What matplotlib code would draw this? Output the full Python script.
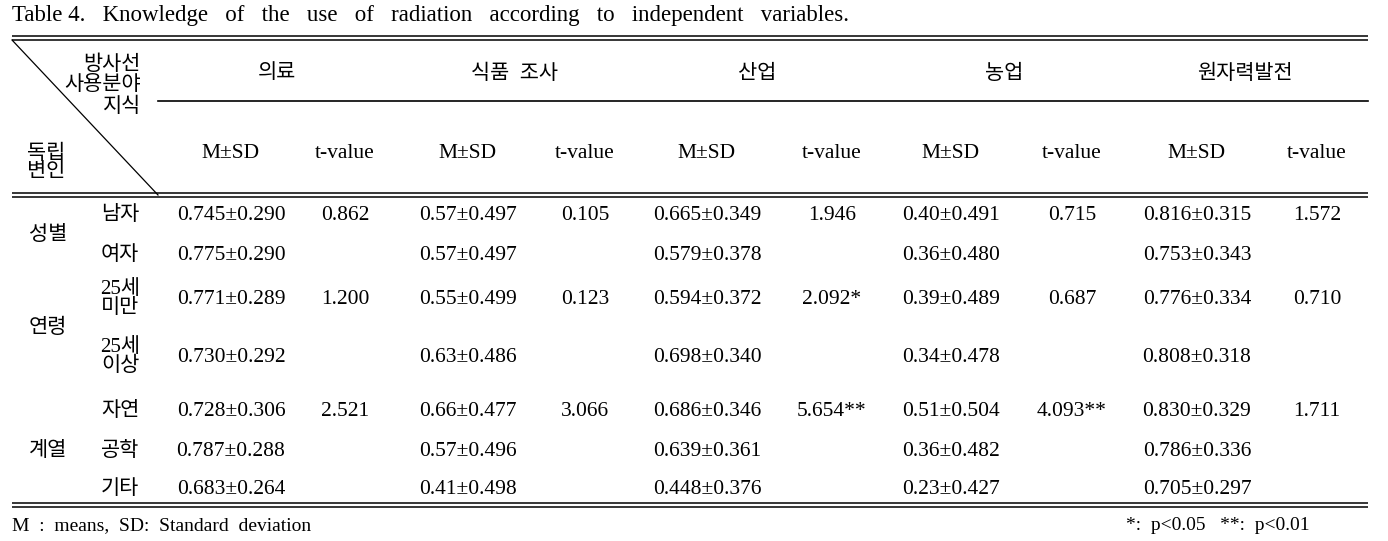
"""Table 4: knowledge of the use of radiation according to independent variables."""

import matplotlib

matplotlib.use("Agg")
import matplotlib.pyplot as plt

FONTS = ["Liberation Serif", "Noto Sans CJK KR"]

TITLE = "Table 4.   Knowledge   of   the   use   of   radiation   according   to   independent   variables."
FIELDS = ["의료", "식품  조사", "산업", "농업", "원자력발전"]
SUB_HEADERS = ["M±SD", "t-value"]

GROUPS = ["성별", "연령", "계열"]
SUBGROUPS = ["남자", "여자", "25세\n미만", "25세\n이상", "자연", "공학", "기타"]
GROUP_OF_ROW = [0, 0, 1, 1, 2, 2, 2]

MSD_MEDICAL = ["0.745±0.290", "0.775±0.290", "0.771±0.289", "0.730±0.292",
               "0.728±0.306", "0.787±0.288", "0.683±0.264"]
MSD_FOOD = ["0.57±0.497", "0.57±0.497", "0.55±0.499", "0.63±0.486",
            "0.66±0.477", "0.57±0.496", "0.41±0.498"]
MSD_INDUSTRY = ["0.665±0.349", "0.579±0.378", "0.594±0.372", "0.698±0.340",
                "0.686±0.346", "0.639±0.361", "0.448±0.376"]
MSD_AGRI = ["0.40±0.491", "0.36±0.480", "0.39±0.489", "0.34±0.478",
            "0.51±0.504", "0.36±0.482", "0.23±0.427"]
MSD_NUCLEAR = ["0.816±0.315", "0.753±0.343", "0.776±0.334", "0.808±0.318",
               "0.830±0.329", "0.786±0.336", "0.705±0.297"]

# t-value per group (shown on first row of each group)
T_MEDICAL = ["0.862", "1.200", "2.521"]
T_FOOD = ["0.105", "0.123", "3.066"]
T_INDUSTRY = ["1.946", "2.092*", "5.654**"]
T_AGRI = ["0.715", "0.687", "4.093**"]
T_NUCLEAR = ["1.572", "0.710", "1.711"]

FOOT_LEFT = "M  :  means,  SD:  Standard  deviation"
FOOT_RIGHT = "*:  p<0.05   **:  p<0.01"


def double_line(ax, y, x0=12, x1=1368):
    ax.plot([x0, x1], [y - 2, y - 2], color="black", lw=1.1, solid_capstyle="butt")
    ax.plot([x0, x1], [y + 2, y + 2], color="black", lw=1.1, solid_capstyle="butt")


def main():
    fig = plt.figure(figsize=(13.88, 5.41), dpi=100)
    ax = fig.add_axes([0, 0, 1, 1])
    ax.set_xlim(0, 1388)
    ax.set_ylim(541, 0)
    ax.set_axis_off()

    txt = dict(fontsize=15.5, family=FONTS, color="black")
    kor = dict(fontsize=15, family=FONTS, color="black", fontweight="light")
    dy = 2  # text boxes sit a little high; nudge down

    ax.text(12, 14 + dy, TITLE, ha="left", va="center", fontsize=16.5, family=FONTS)

    # rules
    double_line(ax, 38)
    double_line(ax, 195)
    double_line(ax, 505)
    ax.plot([158, 1368], [101, 101], color="black", lw=1.2)
    ax.plot([12, 158], [40, 195], color="black", lw=0.9)

    # corner cell
    for i, line in enumerate(["방사선", "사용분야", "지식"]):
        ax.text(141, 63 + dy + i * 21, line, ha="right", va="center", **kor)
    ax.text(27, 152 + dy, "독립", ha="left", va="center", **kor)
    ax.text(27, 171 + dy, "변인", ha="left", va="center", **kor)

    msd_x = [231, 468, 707, 951, 1197]
    t_x = [345, 585, 832, 1072, 1317]
    field_x = [277, 515, 757, 1004, 1245]

    for name, fx in zip(FIELDS, field_x):
        ax.text(fx, 72 + dy, name, ha="center", va="center", **kor)
    for mx, tx in zip(msd_x, t_x):
        ax.text(mx, 151 + dy, SUB_HEADERS[0], ha="center", va="center", **txt)
        ax.text(tx, 151 + dy, SUB_HEADERS[1], ha="center", va="center", **txt)

    row_y = [214, 253, 297, 355, 410, 449, 488]
    group_y = [233, 326, 449]
    for g, gy in zip(GROUPS, group_y):
        ax.text(48, gy + dy, g, ha="center", va="center", **kor)
    for s, ry in zip(SUBGROUPS, row_y):
        ax.text(120, ry + dy, s, ha="center", va="center", linespacing=1.0, **kor)

    msd_cols = [MSD_MEDICAL, MSD_FOOD, MSD_INDUSTRY, MSD_AGRI, MSD_NUCLEAR]
    t_cols = [T_MEDICAL, T_FOOD, T_INDUSTRY, T_AGRI, T_NUCLEAR]
    first_rows = [GROUP_OF_ROW.index(g) for g in range(len(GROUPS))]
    for col, mx in zip(msd_cols, msd_x):
        for val, ry in zip(col, row_y):
            ax.text(mx, ry + dy, val, ha="center", va="center", **txt)
    for col, tx in zip(t_cols, t_x):
        for val, r in zip(col, first_rows):
            ax.text(tx, row_y[r] + dy, val, ha="center", va="center", **txt)

    ax.text(12, 524 + dy, FOOT_LEFT, ha="left", va="center", fontsize=14, family=FONTS)
    ax.text(1310, 524 + dy, FOOT_RIGHT, ha="right", va="center", fontsize=14, family=FONTS)

    fig.savefig("out.png", dpi=100, facecolor="white")
    plt.close(fig)


if __name__ == "__main__":
    main()
